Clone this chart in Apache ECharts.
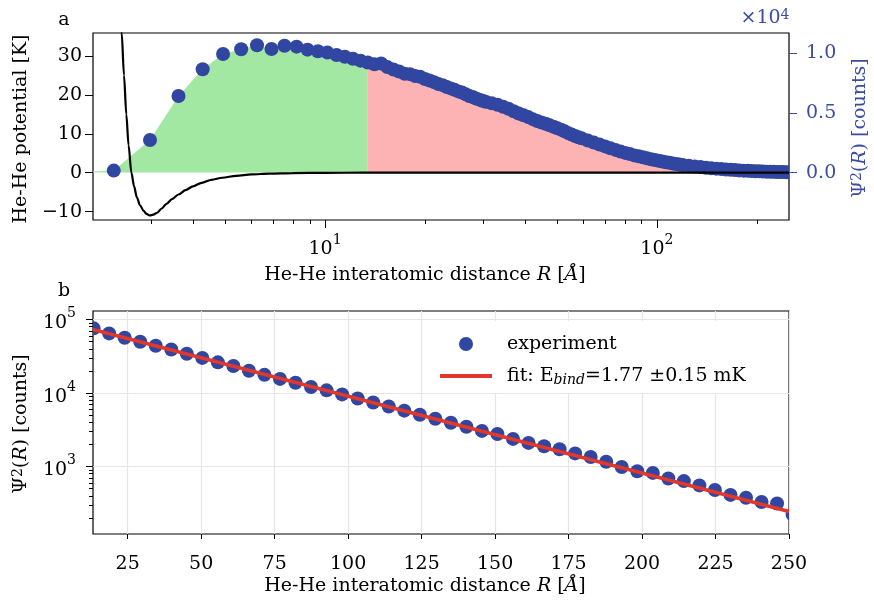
<!DOCTYPE html>
<html><head><meta charset="utf-8">
<script src="https://cdn.jsdelivr.net/npm/echarts@6/dist/echarts.min.js"></script>
<style>html,body{margin:0;padding:0;background:#fff}#c{width:874px;height:603px}</style>
</head><body><div id="c"></div>
<script>
// ---------- data ----------
// panel a: measured Psi^2(R) counts
const topR = [2.31, 2.97, 3.62, 4.28, 4.93, 5.59, 6.24, 6.90, 7.55, 8.21, 8.86, 9.52, 10.17, 10.83, 11.48, 12.14, 12.79, 13.45, 14.10, 14.76,
  15.41, 16.07, 16.72, 17.38, 18.03, 18.69, 19.34, 20.00, 20.65, 21.31, 21.96, 22.62, 23.27, 23.93, 24.58, 25.24, 25.89, 26.55, 27.20, 27.86,
  28.51, 29.17, 29.82, 30.48, 31.79, 33.10, 34.41, 35.72, 37.03, 38.34, 39.65, 40.96, 42.27, 43.58, 44.89, 46.20, 47.51, 48.82, 50.13, 51.44,
  52.75, 54.06, 55.37, 56.68, 57.99, 59.30, 61.92, 64.54, 67.16, 69.78, 72.40, 75.02, 77.64, 80.26, 82.88, 85.50, 88.12, 90.74, 93.36, 95.98,
  98.60, 101.22, 103.84, 106.46, 109.08, 111.70, 114.32, 116.94, 119.56, 124.80, 130.04, 135.28, 140.52, 145.76, 151.00, 156.24, 161.48, 166.72,
  171.96, 177.20, 182.44, 187.68, 192.92, 198.16, 203.40, 208.64, 213.88, 219.12, 224.36, 229.60, 234.84, 240.08, 245.32, 250.56];
const topCounts = [170, 2730, 6410, 8640, 9920, 10310, 10640, 10330, 10610, 10530, 10280, 10140, 10030, 9830, 9690, 9520, 9360, 9210, 9060, 9120,
  8820, 8620, 8450, 8260, 8230, 8080, 8010, 7820, 7700, 7560, 7400, 7310, 7150, 7040, 6920, 6790, 6690, 6550, 6410, 6320,
  6200, 6100, 6000, 5920, 5800, 5670, 5500, 5340, 5130, 4940, 4790, 4640, 4470, 4320, 4190, 4080, 3950, 3830, 3700, 3590,
  3450, 3300, 3180, 3060, 2960, 2870, 2680, 2510, 2350, 2190, 2040, 1900, 1770, 1650, 1550, 1440, 1360, 1280, 1200, 1120,
  1060, 990, 930, 870, 820, 760, 720, 680, 640, 570, 510, 460, 410, 370, 330, 295, 265, 235,
  210, 185, 165, 150, 130, 118, 105, 92, 82, 73, 65, 58, 51, 45, 40, 36];
const fillLeadR = [1.65];       // zero point where the shaded area starts
const fillLeadCounts = [0];
const splitR = 13.45;           // green / red boundary of the shaded area

// panel a: He-He potential [K]
const potR = [2.38, 2.44, 2.48, 2.52, 2.56, 2.61, 2.66, 2.71, 2.77, 2.84, 2.90, 2.96, 3.04, 3.12, 3.22, 3.33, 3.46, 3.62, 3.80, 4.00,
  4.25, 4.55, 4.90, 5.40, 6.00, 6.80, 8.00, 10.0, 13.0, 20.0, 250];
const potK = [60, 36, 25, 15, 7, 0, -3.5, -6.3, -8.3, -9.8, -10.6, -11.0, -10.8, -10.3, -9.2, -8.0, -6.8, -5.6, -4.5, -3.5,
  -2.6, -1.85, -1.3, -0.8, -0.45, -0.22, -0.09, -0.03, -0.01, 0, 0];

// panel b: experiment and fit
const botR = [13.40, 18.69, 23.97, 29.26, 34.54, 39.83, 45.11, 50.40, 55.68, 60.97, 66.25, 71.54, 76.82, 82.11, 87.39, 92.68, 97.96, 103.25,
  108.53, 113.82, 119.10, 124.39, 129.67, 134.96, 140.24, 145.53, 150.81, 156.10, 161.38, 166.67, 171.95, 177.24, 182.52, 187.81, 193.09,
  198.38, 203.66, 208.95, 214.23, 219.52, 224.80, 230.09, 235.37, 240.66, 245.94, 251.23];
const botCounts = [76000, 64800, 56700, 50000, 44000, 39100, 34200, 30100, 26200, 23400, 20100, 17700, 15600, 13800, 12100, 10900, 9600, 8450,
  7450, 6560, 5770, 5080, 4480, 3950, 3480, 3060, 2780, 2380, 2100, 1890, 1720, 1510, 1350, 1165, 985,
  865, 820, 690, 635, 555, 480, 412, 376, 330, 314, 223];
const fitR = [13.2, 250];
const fitCounts = [73300, 245];

// tick labels / tick positions
const topXMajor = [10, 100];
const topXMinor = [3, 4, 5, 6, 7, 8, 9, 20, 30, 40, 50, 60, 70, 80, 90, 200];
const topYLeftTicks = [-10, 0, 10, 20, 30];
const topYRightTicks = [0, 5000, 10000];
const botXTicks = [25, 50, 75, 100, 125, 150, 175, 200, 225, 250];
const botYMajor = [1e3, 1e4, 1e5];
const botYMinor = [200, 300, 400, 500, 600, 700, 800, 900, 2000, 3000, 4000, 5000, 6000, 7000, 8000, 9000,
  20000, 30000, 40000, 50000, 60000, 70000, 80000, 90000];

const FIT_NAME = 'fit: Ebind=1.77 ±0.15 mK';

// ---------- styles ----------
const FONT = 'DejaVu Serif';
const FS = 19;
const SUP = 14;
const BLUE = '#3146a1';
const AXBLUE = '#3a4ca4';
const GREEN = '#a2e7a2';
const PINK = '#fdb3b3';
const RED = '#e2382b';
const GRIDC = '#e6e6e6';

const L = Math.log10;
const pow = {
  b: {fontFamily: FONT, fontSize: FS, lineHeight: 26, verticalAlign: 'bottom', color: '#000'},
  s: {fontFamily: FONT, fontSize: SUP, lineHeight: 14, verticalAlign: 'top', color: '#000'}
};
const powFmt = v => '{b|10}{s|' + Math.round(v) + '}';

const pairs = (xs, ys) => xs.map((x, i) => [x, ys[i]]);
const topData = pairs(topR, topCounts);
const fillAll = pairs(fillLeadR.concat(topR), fillLeadCounts.concat(topCounts));
const greenData = fillAll.filter(d => d[0] <= splitR);
const redData = fillAll.filter(d => d[0] >= splitR);

function dot(params, api) {
  const p = api.coord([api.value(0), api.value(1)]);
  return {type: 'circle', shape: {cx: p[0], cy: p[1], r: 7}, style: {fill: BLUE}};
}

const grids = [
  {left: 93, top: 33, width: 696, height: 187, show: true, borderColor: '#000', borderWidth: 1.2, backgroundColor: 'transparent', containLabel: false},
  {left: 93, top: 311, width: 696, height: 223, show: true, borderColor: '#000', borderWidth: 1.2, backgroundColor: 'transparent', containLabel: false}
];

const noLine = {show: false, onZero: false};
const option = {
  animation: false,
  textStyle: {fontFamily: FONT, fontSize: FS, color: '#000'},
  grid: grids,
  xAxis: [
    {type: 'log', gridIndex: 0, logBase: 10, min: 2, max: 250, show: false, axisLine: noLine},
    {type: 'value', gridIndex: 0, position: 'bottom', min: L(2), max: L(250), axisLine: noLine,
      axisTick: {show: true, customValues: topXMajor.map(L), length: 8, lineStyle: {color: '#000', width: 1}},
      axisLabel: {show: true, customValues: topXMajor.map(L), formatter: powFmt, rich: pow, margin: 13, color: '#000'},
      splitLine: {show: false}},
    {type: 'value', gridIndex: 0, position: 'bottom', min: L(2), max: L(250), axisLine: noLine,
      axisTick: {show: true, customValues: topXMinor.map(L), length: 4, lineStyle: {color: '#000', width: 1}},
      axisLabel: {show: false}, splitLine: {show: false}},
    {type: 'value', gridIndex: 1, position: 'bottom', min: 13.2, max: 250, axisLine: noLine,
      axisTick: {show: true, customValues: botXTicks, length: 5, lineStyle: {color: '#000', width: 1}},
      axisLabel: {show: true, customValues: botXTicks, margin: 21, color: '#000', fontFamily: FONT, fontSize: FS},
      splitLine: {show: true, lineStyle: {color: GRIDC, width: 1.2}}}
  ],
  yAxis: [
    {type: 'value', gridIndex: 0, position: 'left', min: -12.16, max: 35.9, axisLine: noLine,
      axisTick: {show: true, customValues: topYLeftTicks, length: 8, lineStyle: {color: '#000', width: 1}},
      axisLabel: {show: true, customValues: topYLeftTicks, margin: 11, color: '#000', fontFamily: FONT, fontSize: FS,
        formatter: v => v < 0 ? '\u2212' + (-v) : String(v)},
      splitLine: {show: false}},
    {type: 'value', gridIndex: 0, position: 'right', min: -3960, max: 11670, axisLine: noLine,
      axisTick: {show: true, customValues: topYRightTicks, length: 8, lineStyle: {color: AXBLUE, width: 1}},
      axisLabel: {show: true, customValues: topYRightTicks, margin: 17, color: AXBLUE, fontFamily: FONT, fontSize: FS,
        formatter: v => (v / 1e4).toFixed(1)},
      splitLine: {show: false}},
    {type: 'log', gridIndex: 1, logBase: 10, min: 121, max: 130800, show: false, axisLine: noLine},
    {type: 'value', gridIndex: 1, position: 'left', min: L(121), max: L(130800), axisLine: noLine,
      axisTick: {show: true, customValues: botYMajor.map(L), length: 7, lineStyle: {color: '#000', width: 1}},
      axisLabel: {show: true, customValues: botYMajor.map(L), formatter: powFmt, rich: pow, margin: 17, color: '#000'},
      splitLine: {show: true, lineStyle: {color: GRIDC, width: 1.2}}},
    {type: 'value', gridIndex: 1, position: 'left', min: L(121), max: L(130800), axisLine: noLine,
      axisTick: {show: true, customValues: botYMinor.map(L), length: 4, lineStyle: {color: '#000', width: 1}},
      axisLabel: {show: false}, splitLine: {show: false}}
  ],
  legend: {
    show: true, orient: 'vertical', left: 431, top: 321, itemWidth: 52, itemHeight: 14, itemGap: 10,
    padding: [12, 16, 6, 9], backgroundColor: '#fff', borderWidth: 0, selectedMode: false,
    data: [{name: 'experiment', icon: 'circle'}, {name: FIT_NAME, icon: 'path://M0,0L52,0L52,4L0,4Z'}],
    formatter: n => n === 'experiment' ? 'experiment' : 'fit: E{sub|bind}=1.77 ±0.15 mK',
    textStyle: {fontFamily: FONT, fontSize: FS, lineHeight: 22, color: '#000', padding: [0, 0, 0, 10],
      rich: {sub: {fontFamily: FONT, fontSize: SUP, fontStyle: 'italic', lineHeight: 13, verticalAlign: 'bottom', color: '#000'}}}
  },
  series: [
    {type: 'line', name: 'fillA', xAxisIndex: 0, yAxisIndex: 1, data: greenData, symbol: 'none', showSymbol: false,
      lineStyle: {width: 0}, areaStyle: {color: GREEN, opacity: 1}, z: 1, silent: true},
    {type: 'line', name: 'fillB', xAxisIndex: 0, yAxisIndex: 1, data: redData, symbol: 'none', showSymbol: false,
      lineStyle: {width: 0}, areaStyle: {color: PINK, opacity: 1}, z: 1, silent: true},
    {type: 'custom', name: 'counts', xAxisIndex: 0, yAxisIndex: 1, data: topData, renderItem: dot, clip: true, z: 3,
      itemStyle: {color: BLUE}, encode: {x: 0, y: 1}},
    {type: 'line', name: 'potential', xAxisIndex: 0, yAxisIndex: 0, data: pairs(potR, potK), symbol: 'none', showSymbol: false,
      smooth: 0.3, smoothMonotone: 'x', lineStyle: {color: '#000', width: 2.2}, z: 5, clip: true},
    {type: 'custom', name: 'experiment', xAxisIndex: 3, yAxisIndex: 2, data: pairs(botR, botCounts), renderItem: dot, clip: true, z: 3,
      itemStyle: {color: BLUE}, encode: {x: 0, y: 1}},
    {type: 'line', name: FIT_NAME, xAxisIndex: 3, yAxisIndex: 2, data: pairs(fitR, fitCounts), symbol: 'none', showSymbol: false,
      lineStyle: {color: RED, width: 3.5}, itemStyle: {color: RED}, z: 5, clip: true}
  ],
  graphic: [
    {type: 'text', x: 64, y: 20, style: {text: 'a', fontFamily: FONT, fontSize: FS, fill: '#000', align: 'center', verticalAlign: 'middle'}},
    {type: 'text', x: 64, y: 291, style: {text: 'b', fontFamily: FONT, fontSize: FS, fill: '#000', align: 'center', verticalAlign: 'middle'}},
    {type: 'text', x: 21, y: 129, rotation: Math.PI / 2,
      style: {text: 'He-He potential [K]', fontFamily: FONT, fontSize: FS, fill: '#000', align: 'center', verticalAlign: 'middle'}},
    {type: 'text', x: 860, y: 128, rotation: Math.PI / 2,
      style: {text: 'Ψ{sup|2}({i|R}) [counts]', fontFamily: FONT, fontSize: FS, fill: AXBLUE, align: 'center', verticalAlign: 'middle',
        rich: {sup: {fontFamily: FONT, fontSize: SUP, verticalAlign: 'top', lineHeight: 13, fill: AXBLUE},
               i: {fontFamily: FONT, fontSize: FS, fontStyle: 'italic', fill: AXBLUE}}}},
    {type: 'text', x: 765, y: 18,
      style: {text: '×10{sup|4}', fontFamily: FONT, fontSize: FS, fill: AXBLUE, align: 'center', verticalAlign: 'middle',
        rich: {sup: {fontFamily: FONT, fontSize: SUP, verticalAlign: 'top', lineHeight: 13, fill: AXBLUE}}}},
    {type: 'text', x: 425, y: 275,
      style: {text: 'He-He interatomic distance {i|R} [{i|Å}]', fontFamily: FONT, fontSize: FS, fill: '#000', align: 'center', verticalAlign: 'middle',
        rich: {i: {fontFamily: FONT, fontSize: FS, fontStyle: 'italic', fill: '#000'}}}},
    {type: 'text', x: 21, y: 424, rotation: Math.PI / 2,
      style: {text: 'Ψ{sup|2}({i|R}) [counts]', fontFamily: FONT, fontSize: FS, fill: '#000', align: 'center', verticalAlign: 'middle',
        rich: {sup: {fontFamily: FONT, fontSize: SUP, verticalAlign: 'top', lineHeight: 13, fill: '#000'},
               i: {fontFamily: FONT, fontSize: FS, fontStyle: 'italic', fill: '#000'}}}},
    {type: 'text', x: 425, y: 586,
      style: {text: 'He-He interatomic distance {i|R} [{i|Å}]', fontFamily: FONT, fontSize: FS, fill: '#000', align: 'center', verticalAlign: 'middle',
        rich: {i: {fontFamily: FONT, fontSize: FS, fontStyle: 'italic', fill: '#000'}}}}
  ]
};

const chart = echarts.init(document.getElementById('c'), null, {renderer: 'canvas'});
chart.setOption(option);
</script></body></html>
